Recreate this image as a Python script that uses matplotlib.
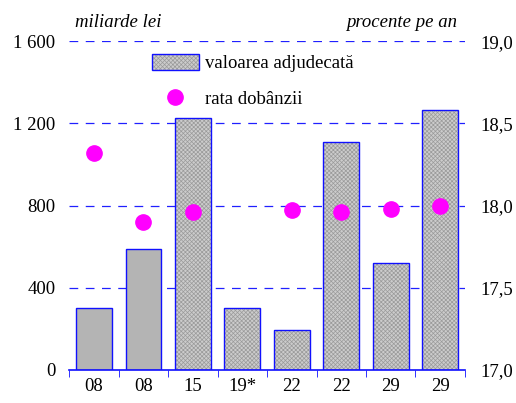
import matplotlib

matplotlib.use("Agg")
import matplotlib.pyplot as plt
import numpy as np
from matplotlib.lines import Line2D
from matplotlib.patches import Patch

labels = ["08", "08", "15", "19*", "22", "22", "29", "29"]
valoare = [300, 590, 1225, 300, 195, 1110, 520, 1265]
rata = [18.32, 17.90, 17.96, np.nan, 17.97, 17.96, 17.98, 18.00]
hatched = [False, False, True, True, True, True, True, True]

plt.rcParams["font.family"] = ["Liberation Serif", "DejaVu Serif"]
plt.rcParams["font.size"] = 13.5
plt.rcParams["hatch.linewidth"] = 0.5

fig = plt.figure(figsize=(5.16, 4.03), dpi=100)
ax = fig.add_axes([0.134, 0.082, 0.767, 0.816])
x = np.arange(len(labels))

for xi, v, h in zip(x, valoare, hatched):
    if h:
        ax.bar(xi, v, width=0.72, color="#cccccc", hatch="xxxxxxxx",
               edgecolor="#9a9a9a", linewidth=0, zorder=2)
    else:
        ax.bar(xi, v, width=0.72, color="#b4b4b4", linewidth=0, zorder=2)
ax.bar(x, valoare, width=0.72, fill=False, edgecolor="#1010ff", linewidth=1.0, zorder=3)

ax.set_ylim(0, 1600)
ax.set_yticks([0, 400, 800, 1200, 1600])
ax.set_yticklabels(["0", "400", "800", "1 200", "1 600"])
ax.set_xlim(-0.5, 7.5)
ax.set_xticks(x)
ax.set_xticklabels(labels)
ax.set_xticks(np.arange(-0.5, 8, 1), minor=True)
ax.tick_params(axis="x", which="major", length=0, pad=6)
ax.tick_params(axis="x", which="minor", length=5, color="#1010ff", direction="out")
ax.tick_params(axis="y", length=0, pad=10)
for y in [400, 800, 1200, 1600]:
    ax.axhline(y, color="#2020ff", linestyle=(0, (7, 6)), linewidth=0.9, zorder=1)
for s in ["left", "right", "top"]:
    ax.spines[s].set_visible(False)
ax.spines["bottom"].set_color("#1010ff")
ax.spines["bottom"].set_linewidth(1.2)

ax2 = ax.twinx()
ax2.plot(x, rata, "o", color="#ff00ff", markersize=11, zorder=4)
ax2.set_ylim(17.0, 19.0)
ax2.set_yticks([17.0, 17.5, 18.0, 18.5, 19.0])
ax2.set_yticklabels(["17,0", "17,5", "18,0", "18,5", "19,0"])
ax2.tick_params(axis="y", length=0, pad=11)
for s in ["left", "right", "top", "bottom"]:
    ax2.spines[s].set_visible(False)

ax.text(0.015, 1.03, "miliarde lei", transform=ax.transAxes, style="italic", ha="left", va="bottom")
ax.text(0.98, 1.03, "procente pe an", transform=ax.transAxes, style="italic", ha="right", va="bottom")

handles = [
    (Patch(facecolor="#cccccc", hatch="xxxxxxxx", edgecolor="#9a9a9a", linewidth=0),
     Patch(fill=False, edgecolor="#1010ff", linewidth=1.0)),
    Line2D([], [], marker="o", color="#ff00ff", linestyle="none", markersize=11),
]
ax2.legend(handles, ["valoarea adjudecată", "rata dobânzii"], frameon=False,
           loc="upper left", bbox_to_anchor=(0.19, 0.985), handlelength=2.5,
           handleheight=1.0, labelspacing=0.9, handletextpad=0.35, borderaxespad=0)

fig.savefig("out.png", dpi=100)
plt.close(fig)
